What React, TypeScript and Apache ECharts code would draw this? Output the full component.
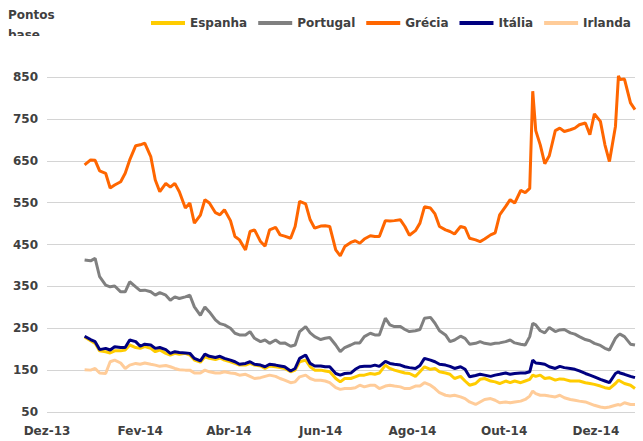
import React, { useEffect, useRef } from "react";
import * as echarts from "echarts";

// x values: days since 1 Dec 2013
const days = [
  25, 29, 32, 35, 39, 42, 45, 49, 52, 55, 59, 62, 65, 69, 72, 75, 79, 82, 85, 88, 92, 95, 98, 102,
  105, 108, 112, 115, 118, 122, 125, 128, 132, 135, 138, 142, 145, 148, 152, 155, 158, 162, 165, 168, 172, 175, 178, 182, 185, 188, 192, 195, 198,
  202, 205, 208, 211, 215, 218, 221, 225, 228, 231, 235, 238, 241, 245, 248, 251, 255, 258, 261, 265, 268, 271, 275, 278, 281, 285, 288, 291, 295,
  298, 301, 305, 308, 311, 315, 318, 321, 323, 325, 328, 331, 334, 338, 341, 344, 348, 351, 354, 358, 361, 364, 368, 371, 374, 378, 380, 381, 384, 388, 391,
];

const espanha = [
  229, 220, 214, 196, 194, 191, 196, 196, 198, 210, 204, 202, 206, 202, 194, 198, 190, 186, 190, 188, 190, 186, 174, 169,
  182, 178, 175, 179, 174, 170, 166, 162, 162, 166, 162, 160, 154, 160, 158, 156, 154, 146, 150, 170, 174, 158, 150, 150, 148, 146, 130, 122, 130,
  130, 134, 138, 138, 142, 140, 143, 162, 154, 150, 146, 143, 142, 135, 146, 158, 152, 154, 146, 143, 140, 130, 135, 124, 114, 118, 128, 130, 124,
  122, 118, 124, 120, 124, 120, 124, 128, 138, 135, 138, 130, 132, 126, 129, 128, 124, 124, 124, 120, 118, 116, 112, 108, 106, 118, 126, 124, 118, 114, 106,
];

const portugal = [
  413, 411, 417, 373, 353, 349, 351, 337, 337, 361, 349, 340, 341, 337, 329, 335, 329, 317, 325, 321, 325, 329, 301, 281,
  301, 289, 270, 261, 258, 250, 238, 234, 234, 242, 226, 218, 222, 214, 222, 214, 215, 207, 210, 242, 254, 239, 230, 223, 226, 228, 210, 194, 204,
  210, 215, 215, 230, 238, 234, 234, 274, 258, 254, 254, 247, 242, 244, 247, 274, 276, 262, 244, 234, 218, 222, 231, 226, 212, 214, 218, 214, 212,
  214, 215, 218, 222, 215, 212, 210, 230, 262, 258, 244, 239, 252, 242, 246, 247, 239, 236, 230, 223, 220, 214, 209, 202, 198, 226, 234, 236, 230, 212, 210,
];

const grecia = [
  640, 652, 651, 626, 620, 585, 592, 600, 620, 652, 686, 688, 692, 660, 604, 576, 596, 587, 596, 576, 537, 549, 501, 520,
  557, 549, 526, 521, 533, 507, 469, 461, 437, 481, 485, 457, 446, 485, 491, 473, 470, 465, 493, 553, 547, 509, 489, 494, 495, 493, 437, 423, 445,
  455, 459, 453, 463, 471, 469, 469, 507, 506, 507, 509, 493, 472, 483, 501, 540, 537, 523, 493, 485, 481, 475, 493, 490, 465, 461, 457, 463, 473,
  478, 521, 541, 557, 549, 579, 574, 584, 816, 722, 688, 643, 662, 722, 728, 720, 724, 728, 736, 740, 712, 762, 744, 688, 648, 732, 853, 844, 845, 788, 772,
];

const italia = [
  231, 223, 218, 199, 202, 198, 206, 204, 204, 222, 218, 207, 212, 210, 202, 204, 199, 190, 194, 192, 191, 190, 178, 172,
  188, 183, 180, 183, 178, 174, 170, 164, 166, 170, 164, 162, 158, 164, 162, 160, 158, 148, 154, 178, 186, 166, 160, 160, 158, 158, 142, 138, 142,
  143, 152, 158, 159, 159, 162, 159, 171, 166, 164, 162, 158, 156, 154, 161, 178, 174, 170, 164, 162, 159, 154, 158, 152, 134, 137, 140, 138, 135,
  138, 140, 143, 140, 142, 143, 143, 146, 174, 167, 166, 164, 158, 154, 159, 156, 154, 152, 148, 142, 138, 134, 128, 124, 120, 142, 146, 143, 140, 135, 132,
];

const irlanda = [
  151, 150, 154, 143, 142, 170, 174, 167, 154, 162, 166, 164, 167, 164, 162, 159, 161, 158, 154, 151, 150, 150, 143, 143,
  150, 146, 143, 143, 146, 143, 142, 138, 140, 135, 130, 132, 135, 138, 135, 130, 126, 120, 122, 134, 138, 130, 126, 126, 124, 120, 108, 104, 106,
  106, 108, 114, 110, 114, 114, 106, 112, 114, 112, 110, 106, 106, 112, 112, 120, 114, 106, 96, 90, 88, 90, 86, 82, 74, 68, 74, 80, 82,
  78, 72, 74, 72, 74, 76, 80, 88, 100, 94, 90, 90, 88, 86, 90, 84, 80, 78, 76, 74, 70, 66, 62, 60, 62, 66, 68, 66, 72, 68, 68,
];

const seriesNames = ["Espanha", "Portugal", "Grécia", "Itália", "Irlanda"];
const seriesColors = ["#FFCC00", "#808080", "#FF6600", "#000080", "#FFCC99"];
const seriesValues = [espanha, portugal, grecia, italia, irlanda];

const monthStarts = [0, 62, 121, 182, 243, 304, 365];
const monthLabels = ["Dez-13", "Fev-14", "Abr-14", "Jun-14", "Ago-14", "Out-14", "Dez-14"];

const yTicks = [50, 150, 250, 350, 450, 550, 650, 750, 850];

const FONT = "DejaVu Sans";
const TEXT = "#404040";

export default function App() {
  const ref = useRef<HTMLDivElement>(null);
  useEffect(() => {
    if (!ref.current) return;
    document.body.style.margin = "0";
    const chart = echarts.init(ref.current, undefined, { renderer: "svg" });
    chart.setOption({
      animation: false,
      backgroundColor: "#ffffff",
      textStyle: { fontFamily: FONT },
      grid: { left: 47, right: 8, top: 77, bottom: 29, containLabel: false },
      legend: {
        data: seriesNames,
        left: 151,
        right: 0,
        top: 17,
        padding: 0,
        itemWidth: 34,
        itemHeight: 4,
        itemGap: 11,
        icon: "rect",
        textStyle: { fontFamily: FONT, fontSize: 12, fontWeight: "bold", color: TEXT },
      },
      graphic: [
        { type: "text", left: 8, top: 9, z: 1, style: { text: "Pontos", font: `bold 12px ${FONT}`, fill: TEXT } },
        { type: "text", left: 8, top: 29, z: 1, style: { text: "base", font: `bold 12px ${FONT}`, fill: TEXT } },
        { type: "rect", left: 0, top: 36, z: 100, shape: { width: 60, height: 14 }, style: { fill: "#ffffff" } },
      ],
      xAxis: {
        type: "value",
        min: 0,
        max: 391,
        axisLine: { show: false },
        axisTick: { show: false },
        splitLine: { show: false },
        axisLabel: {
          customValues: monthStarts,
          formatter: (v: number) => monthLabels[monthStarts.indexOf(v)] ?? "",
          fontFamily: FONT,
          fontSize: 12,
          fontWeight: "bold",
          color: TEXT,
          margin: 13,
        },
      },
      yAxis: {
        type: "value",
        min: 50,
        max: 850,
        interval: 100,
        axisLine: { show: false },
        axisTick: { show: false },
        splitLine: { show: true, lineStyle: { color: "#d4d4d4", width: 1 } },
        axisLabel: {
          formatter: (v: number) => (yTicks.includes(v) ? String(v) : ""),
          fontFamily: FONT,
          fontSize: 12,
          fontWeight: "bold",
          color: TEXT,
          margin: 9,
        },
      },
      series: seriesNames.map((name, i) => ({
        name,
        type: "line",
        clip: false,
        showSymbol: false,
        symbol: "none",
        color: seriesColors[i],
        lineStyle: { color: seriesColors[i], width: 3 },
        data: days.map((d, k) => [d, seriesValues[i][k]]),
      })),
    });
    return () => chart.dispose();
  }, []);
  return <div ref={ref} style={{ width: 643, height: 441 }} />;
}
